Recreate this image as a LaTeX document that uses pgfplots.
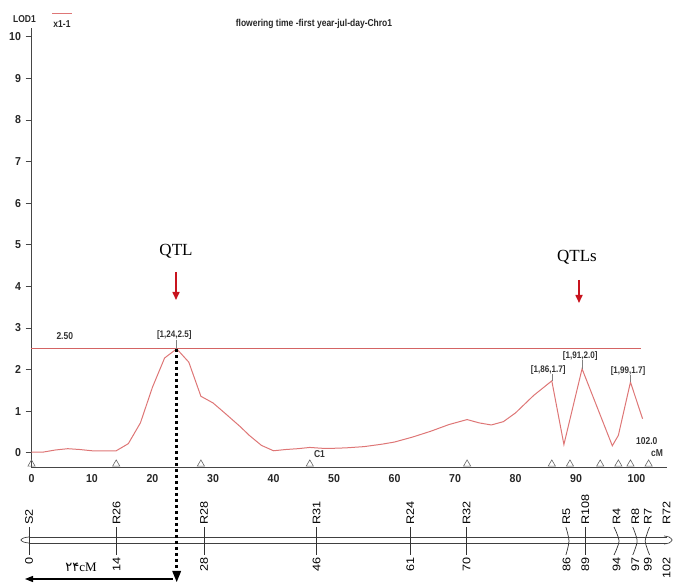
\documentclass[border=0pt]{standalone}
\usepackage{fontspec}
\setmainfont{Liberation Sans}
\newfontfamily\serif{Liberation Serif}
\newfontfamily\cond[FakeStretch=0.85]{Liberation Sans Bold}
\newfontfamily\tickfont[FakeStretch=0.92]{Liberation Sans Bold}
\newfontfamily\chromfont[FakeStretch=1.15]{Liberation Sans}
\newfontfamily\arabicfont[Script=Arabic]{DejaVu Sans}
\usepackage{pgfplots}
\pgfplotsset{compat=1.18}
\usetikzlibrary{arrows.meta}
\definecolor{lodred}{RGB}{222,118,118}
\definecolor{thrred}{RGB}{212,100,100}
\definecolor{arrred}{RGB}{200,20,30}
\definecolor{axgray}{RGB}{70,70,70}
\begin{document}
\begin{tikzpicture}[x=1pt,y=1pt]
\useasboundingbox (0,0) rectangle (674,583);
% ---------------- LOD profile ----------------
\begin{axis}[
  at={(31.5pt,116pt)}, anchor=south west, scale only axis,
  width=635.25pt, height=438.5pt,
  xmin=0, xmax=105, ymin=-0.34, ymax=10.2,
  axis x line=bottom, axis y line=left,
  axis line style={-, axgray, line width=0.9pt},
  xtick={0,10,...,100}, ytick={0,1,...,10},
  tick align=outside, major tick length=6pt,
  ytick style={axgray, line width=0.8pt},
  xtick style={draw=none},
  /pgf/number format/assume math mode=true,
  tick label style={font=\tickfont\fontsize{11.5}{12}\selectfont, text=black!85},
  xticklabel style={yshift=2pt},
  yticklabel style={xshift=-1pt},
  clip=false,
]
\addplot[lodred, line width=1pt] table {
x y
0 0.02
2 0.02
4 0.07
6 0.10
8 0.08
10 0.05
12 0.05
14 0.05
16 0.22
18 0.72
20 1.58
22 2.28
24 2.50
26 2.18
28 1.36
30 1.20
32 0.95
34.5 0.63
36 0.42
38 0.18
40 0.05
42 0.08
44 0.10
46 0.13
48 0.11
50 0.11
52 0.12
55 0.15
58 0.21
60 0.26
63 0.38
66 0.52
69 0.68
72 0.80
74 0.72
76 0.67
78 0.75
80 0.96
83 1.38
86 1.73
88 0.20
91 2.02
96 0.17
97 0.42
99 1.70
101 0.82
};
\addplot[thrred, line width=1pt] coordinates {(0,2.5) (100.8,2.5)};
\addplot[only marks, mark=triangle, mark size=4.2pt,
  mark options={gray!80!black, line width=0.6pt, fill=white}]
  coordinates {(0,-0.27) (14,-0.27) (28,-0.27) (46,-0.27) (72,-0.27) (86,-0.27)
               (89,-0.27) (94,-0.27) (97,-0.27) (99,-0.27) (102,-0.27)};
% leaders
\addplot[gray, line width=0.5pt] coordinates {(24,2.72) (24,2.5)};
\addplot[gray, line width=0.5pt] coordinates {(86,1.90) (86,1.73)};
\addplot[gray, line width=0.5pt] coordinates {(91,2.22) (91,2.02)};
\addplot[gray, line width=0.5pt] coordinates {(99,1.87) (99,1.70)};
\node[font=\cond\fontsize{10}{11}\selectfont, text=black!80] at (axis cs:5.5,2.81) {2.50};
\node[font=\cond\fontsize{9.5}{11}\selectfont, text=black!80] at (axis cs:23.6,2.83) {[1,24,2.5]};
\node[font=\cond\fontsize{9.5}{11}\selectfont, text=black!80] at (axis cs:85.4,2.0) {[1,86,1.7]};
\node[font=\cond\fontsize{9.5}{11}\selectfont, text=black!80] at (axis cs:90.7,2.33) {[1,91,2.0]};
\node[font=\cond\fontsize{9.5}{11}\selectfont, text=black!80] at (axis cs:98.6,1.97) {[1,99,1.7]};
\node[font=\cond\fontsize{10}{11}\selectfont, text=black!80] at (axis cs:47.6,-0.03) {C1};
\node[font=\cond\fontsize{10}{11}\selectfont, text=black!80] at (axis cs:101.7,0.29) {102.0};
\node[font=\cond\fontsize{10}{11}\selectfont, text=black!80] at (axis cs:103.4,0.0) {cM};
\end{axis}
% ---------------- chromosome ----------------
\begin{axis}[
  at={(16.5pt,0pt)}, anchor=south west, scale only axis,
  width=662.5pt, height=100pt,
  xmin=-2, xmax=104, ymin=0, ymax=100,
  axis lines=none, clip=false,
]
\addplot[black!75, line width=0.7pt] coordinates {(0,46) (102,46)};
\addplot[black!75, line width=0.7pt] coordinates {(0,40) (102,40)};
\addplot[black!75, line width=0.7pt, smooth] coordinates {(0,46) (-0.8,45.2) (-1.3,43) (-0.8,40.8) (0,40)};
\addplot[black!75, line width=0.7pt, smooth] coordinates {(101.6,47) (102.4,46) (102.9,43) (102.4,40) (101.6,39)};
\addplot[only marks, mark=|, mark size=14pt, mark options={black!80, line width=0.7pt}]
  coordinates {(0,42) (14,42) (28,42) (46,42) (61,42) (70,42) (89,42)};
\addplot[black!80, line width=0.7pt, smooth] coordinates {(85.9,56) (86.4,42) (85.9,28)};
\addplot[black!80, line width=0.7pt, smooth] coordinates {(93.6,56) (94.4,42) (93.6,28)};
\addplot[black!80, line width=0.7pt, smooth] coordinates {(96.6,56) (97.3,42) (96.6,28)};
\addplot[black!80, line width=0.7pt, smooth] coordinates {(99.3,56) (98.6,42) (99.3,28)};
\addplot[draw=none, nodes near coords, point meta=explicit symbolic,
  every node near coord/.append style={rotate=90, anchor=west, inner sep=1pt,
    font=\chromfont\fontsize{11}{12}\selectfont}]
  table[meta=lab] {
x y lab
0 57 S2
14 57 R26
28 57 R28
46 57 R31
61 57 R24
70 57 R32
86 57 R5
89 57 R108
94 57 R4
97 57 R8
99 57 R7
102 57 R72
};
\addplot[draw=none, nodes near coords, point meta=explicit symbolic,
  every node near coord/.append style={rotate=90, anchor=east, inner sep=1pt,
    font=\chromfont\fontsize{11}{12}\selectfont}]
  table[meta=lab] {
x y lab
0 27 0
14 27 14
28 27 28
46 27 46
61 27 61
70 27 70
86 27 86
89 27 89
94 27 94
97 27 97
99 27 99
102 27 102
};
\end{axis}
% ---------------- annotations ----------------
\draw[black, line width=3pt, dash pattern=on 3pt off 3pt] (176.7,234) -- (176.7,10);
\fill[black] (172.2,12) -- (181.2,12) -- (176.7,1) -- cycle;
\draw[black, line width=1.2pt, {Triangle[length=8pt,width=6pt]}-] (25,4) -- (173,4);
\node[font=\serif\fontsize{13}{14}\selectfont] at (81,16) {{\arabicfont ۲۴}cM};
\node[font=\serif\fontsize{17}{18}\selectfont] at (176,332) {QTL};
\draw[arrred, line width=1.6pt, -{Triangle[length=8pt,width=7pt]}] (176,311) -- (176,283);
\node[font=\serif\fontsize{17}{18}\selectfont] at (577,326) {QTLs};
\draw[arrred, line width=1.6pt, -{Triangle[length=8pt,width=7pt]}] (579,303) -- (579,280);
% legend / title
\node[font=\cond\fontsize{10}{11}\selectfont, text=black!85] at (24.5,564) {LOD1};
\draw[lodred, line width=1pt] (52,569.5) -- (72,569.5);
\node[font=\cond\fontsize{10}{11}\selectfont, text=black!85] at (62,559) {x1-1};
\node[font=\cond\fontsize{10}{11}\selectfont, text=black!85] at (314,559) {flowering time -first year-jul-day-Chro1};
\end{tikzpicture}
\end{document}
